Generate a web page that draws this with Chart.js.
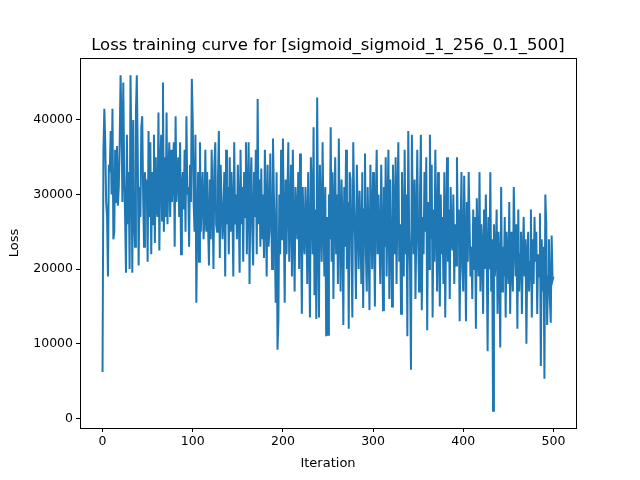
<!DOCTYPE html>
<html>
<head>
<meta charset="utf-8">
<script src="https://cdn.jsdelivr.net/npm/chart.js@4/dist/chart.umd.min.js"></script>
<style>body{margin:0;background:#fff}</style>
</head>
<body>
<canvas id="c" width="640" height="480"></canvas>
<script>
const chartTitle = 'Loss training curve for [sigmoid_sigmoid_1_256_0.1_500]';
const xLabel = 'Iteration';
const yLabel = 'Loss';
const xTicks = [0, 100, 200, 300, 400, 500];
const yTicks = [0, 10000, 20000, 30000, 40000];
// loss per iteration, in thousands
const lossK = [
  6.2,36,41.5,37,29,27,19,34,33,38.5,30,41.5,24,25,36,29,36.5,28.5,31,37,46,40,29,45,33,
  27,19.5,38,26,33,20,46,36,19.5,40,27,23,41,46,36,20.5,31,27,39,40.5,30,23,33,29,32,
  21,38.5,27,37,22,33,26,38,23.5,35,28,27,41,22.5,34,38,26.5,45,25,35,27,41,26,32,37,
  27,36,29,33,37,23,40.5,29,33,35,27,37,22,31,33,28,36,25,40.5,30,31,23,34,29,45.5,
  40,29,25,38,15.5,26,33,21,37,25,30,33,24,27,36,25,33,26,20.5,32,24,36,29,20,34,
  37,26,25,32,38.5,21.5,34,29,24,27,33,19,36,26,31,22,35,25,33,28,19,37,26,30,24,
  34,28,19.5,36,26,31,21,33,27,37,22,30,37,18,31,35,25,20.5,33,27,36,22,42.8,26,32,
  23,33.5,24,30,21.5,36,28,19,34,23,25,35.5,28,20,37.5,30,24,15.5,33,9.2,13.2,30,22,36,24,
  37.5,26,15.5,32,22,30,37,21,27,34,19,36,25,17,31,28,24,33,20,35.5,27,14,31,25,22,
  31,27,18,33,24,13.5,35,30,22,39,16.5,28,13.3,43,25,13.5,34,28,21,37,26,19,31,11,27,
  11.2,30,24,39,21,33,16,28,35,22,30,18,37.5,25,17,32,27,12.5,31,23,36,20,29,12,33,
  32,22,13.5,37,29,24,16,34,27,20,30.5,25,18,33,14.8,28,35.5,22,17,31,24,14.5,34,27,20,
  33,26,15,29,36,22,30,24,18,34,26,14.5,31,23,35,19,28,36,16,32,25,15,34,27,22,
  35,18,29,37,21,26,14,33,25,19,36,22,30,11,38.5,25,20,6.5,38,28,22,32,16,26,36,
  24,17,30,38,14.5,27,22,33,25,35,11.8,29,20,38,24,34,13.5,28,21,36,26,17,33,24,15,
  30,22,27,18,33,13.5,26,35,21,28,16,31,24,22.5,30,18,26,20.5,35,24,28,13,25,33,20,
  17,32.5,24,13,29,21,33,26,19,23,16,28,20,27,12,29.5,22,19,33,17,26,23,14,28,20,
  30,22,9,27,20,33,17,24,1,26,19,22,28,14,25,21,9.5,31,17,23,19,27,13.5,25,21,
  18,29,14,25,20,17,31,24,19,26,12,28,17,22,25,14,22,27,19,24,10,22,25,17,21,
  28,13.5,24,18,27,21,25,14,22,19,27.5,7,24,17,23,5.3,30,26,12.5,19,24,16,12.8,24.5,18.5,
  19
];

const points = lossK.map((v, i) => ({ x: i, y: v * 1000 }));
const font = { family: 'DejaVu Sans', size: 12.5 };

const framePlugin = {
  id: 'frame',
  afterDraw(chart) {
    const { ctx, chartArea: a } = chart;
    ctx.save();
    ctx.strokeStyle = '#000';
    ctx.lineWidth = 1;
    ctx.strokeRect(a.left + 0.5, a.top + 0.5, a.right - a.left, a.bottom - a.top);
    ctx.fillStyle = '#000';
    ctx.textAlign = 'center';
    ctx.textBaseline = 'alphabetic';
    ctx.font = '16.5px "DejaVu Sans"';
    ctx.fillText(chartTitle, (a.left + a.right) / 2, a.top - 8);
    ctx.font = '13px "DejaVu Sans"';
    ctx.fillText(xLabel, (a.left + a.right) / 2, 467);
    ctx.translate(18, (a.top + a.bottom) / 2);
    ctx.rotate(-Math.PI / 2);
    ctx.fillText(yLabel, 0, 0);
    ctx.restore();
  }
};

new Chart(document.getElementById('c'), {
  type: 'line',
  data: {
    datasets: [{
      data: points,
      borderColor: '#1f77b4',
      borderWidth: 2,
      pointRadius: 0,
      tension: 0
    }]
  },
  options: {
    responsive: false,
    animation: false,
    layout: { padding: { top: 58, right: 64, left: 0, bottom: 0 } },
    plugins: { legend: { display: false }, title: { display: false }, tooltip: { enabled: false } },
    scales: {
      x: {
        type: 'linear',
        min: -25,
        max: 525,
        afterBuildTicks(s) { s.ticks = xTicks.map(v => ({ value: v })); },
        afterFit(s) { s.height = 52; },
        grid: { drawOnChartArea: false, color: '#000', tickLength: 4 },
        border: { color: '#000' },
        ticks: { color: '#000', font, padding: 2, maxRotation: 0 }
      },
      y: {
        min: -1300,
        max: 48300,
        afterBuildTicks(s) { s.ticks = yTicks.map(v => ({ value: v })); },
        afterFit(s) { s.width = 80; },
        grid: { drawOnChartArea: false, color: '#000', tickLength: 4 },
        border: { color: '#000' },
        ticks: { color: '#000', font, padding: 3, callback: v => String(v) }
      }
    }
  },
  plugins: [framePlugin]
});
</script>
</body>
</html>
